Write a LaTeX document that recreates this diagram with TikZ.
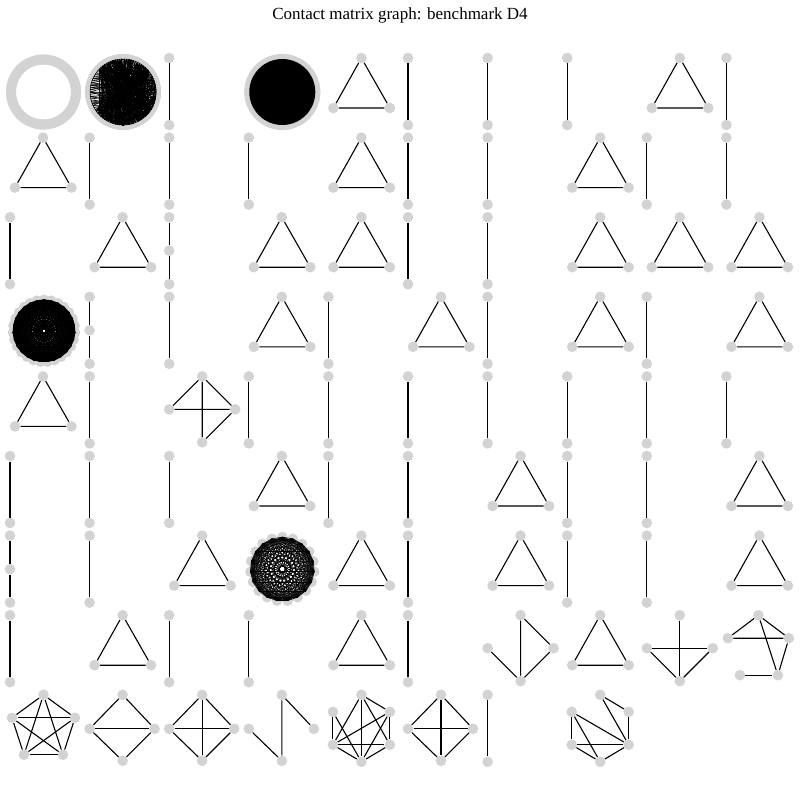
\documentclass[tikz,border=0pt]{standalone}
\usepackage{fontspec}
\setmainfont{Liberation Serif}
\definecolor{vgray}{RGB}{211,211,211}
\tikzset{
  vtx/.style={circle,fill=vgray,inner sep=0pt,minimum size=10.6pt},
  link/.style={black,line width=1.1pt},
  chord/.style={black,line width=0.6pt},
}
\begin{document}
\begin{tikzpicture}[x=1pt,y=-1pt]
\useasboundingbox (0,0) rectangle (800,800);

% Title
\node (title) at (400,15) {\fontsize{17}{20}\selectfont Contact matrix graph: benchmark D4};

% Components with two nodes
\foreach \c/\r in {2/0,5/0,6/0,7/0,9/0,
    1/1,2/1,3/1,5/1,6/1,8/1,9/1,
    0/2,5/2,6/2,
    2/3,4/3,6/3,8/3,
    1/4,3/4,4/4,5/4,6/4,7/4,8/4,9/4,
    0/5,1/5,2/5,4/5,5/5,7/5,8/5,
    1/6,5/6,7/6,8/6,
    0/7,2/7,3/7,5/7,
    6/8} {
  \begin{scope}[shift={(10+79.6*\c,58+79.6*\r)}]
    \node[vtx] (s-\c-\r-a) at (0,0) {};
    \node[vtx] (s-\c-\r-b) at (0,67) {};
    \draw[link] (s-\c-\r-a) -- (s-\c-\r-b);
  \end{scope}
}

% Paths with three nodes
\foreach \c/\r in {2/2,1/3,0/6} {
  \begin{scope}[shift={(10+79.6*\c,58+79.6*\r)}]
    \node[vtx] (p-\c-\r-a) at (0,0) {};
    \node[vtx] (p-\c-\r-b) at (0,33.5) {};
    \node[vtx] (p-\c-\r-c) at (0,67) {};
    \draw[link] (p-\c-\r-a) -- (p-\c-\r-b) -- (p-\c-\r-c);
  \end{scope}
}

% Triangles
\foreach \c/\r in {4/0,8/0, 0/1,4/1,7/1, 1/2,3/2,4/2,7/2,8/2,9/2,
    3/3,5/3,7/3,9/3, 0/4, 3/5,6/5,9/5, 2/6,4/6,6/6,9/6, 1/7,4/7,7/7} {
  \begin{scope}[shift={(10+79.6*\c,58+79.6*\r)}]
    \node[vtx] (t-\c-\r-a) at (33,0) {};
    \node[vtx] (t-\c-\r-b) at (5,50) {};
    \node[vtx] (t-\c-\r-c) at (61.5,50) {};
    \draw[link] (t-\c-\r-a) -- (t-\c-\r-b) -- (t-\c-\r-c) -- (t-\c-\r-a);
  \end{scope}
}

% Four nodes, row 5
\begin{scope}[shift={(10+79.6*2,58+79.6*4)}]
  \node[vtx] (qa-t) at (33,0) {};
  \node[vtx] (qa-l) at (0,33) {};
  \node[vtx] (qa-r) at (66,33) {};
  \node[vtx] (qa-b) at (33,66) {};
  \draw[link] (qa-t) -- (qa-l) -- (qa-r) -- (qa-t) -- (qa-b) -- (qa-r);
\end{scope}

% Four nodes, row 8
\begin{scope}[shift={(10+79.6*6,58+79.6*7)}]
  \node[vtx] (qb-t) at (33,0) {};
  \node[vtx] (qb-l) at (0,33) {};
  \node[vtx] (qb-r) at (66,33) {};
  \node[vtx] (qb-b) at (33,66) {};
  \draw[link] (qb-l) -- (qb-b) -- (qb-t) -- (qb-r) -- (qb-b);
\end{scope}
\begin{scope}[shift={(10+79.6*8,58+79.6*7)}]
  \node[vtx] (qc-t) at (33,0) {};
  \node[vtx] (qc-l) at (0,33) {};
  \node[vtx] (qc-r) at (66,33) {};
  \node[vtx] (qc-b) at (33,66) {};
  \draw[link] (qc-t) -- (qc-b);
  \draw[link] (qc-l) -- (qc-r);
  \draw[link] (qc-l) -- (qc-b) -- (qc-r);
\end{scope}

% Five nodes, row 8
\begin{scope}[shift={(10+79.6*9,58+79.6*7)}]
  \node[vtx] (fa-a) at (32,0) {};
  \node[vtx] (fa-b) at (1.5,23) {};
  \node[vtx] (fa-c) at (62.5,23) {};
  \node[vtx] (fa-d) at (51.5,60) {};
  \node[vtx] (fa-e) at (13.5,60) {};
  \draw[link] (fa-b) -- (fa-a) -- (fa-c) -- (fa-b);
  \draw[link] (fa-a) -- (fa-d) -- (fa-c);
  \draw[link] (fa-e) -- (fa-d);
\end{scope}

% Row 9: complete graph on five nodes
\begin{scope}[shift={(10,58+79.6*8)}]
  \node[vtx] (k5-1) at (33.5,0) {};
  \node[vtx] (k5-2) at (65,23) {};
  \node[vtx] (k5-3) at (53,60) {};
  \node[vtx] (k5-4) at (14,60) {};
  \node[vtx] (k5-5) at (2,23) {};
  \foreach \i in {1,...,5}
    \foreach \j in {1,...,5} {
      \ifnum\j>\i \draw[link] (k5-\i) -- (k5-\j); \fi
    }
\end{scope}

% Row 9: diamond
\begin{scope}[shift={(10+79.6,58+79.6*8)}]
  \node[vtx] (da-t) at (33,0) {};
  \node[vtx] (da-l) at (0,34) {};
  \node[vtx] (da-r) at (65,34) {};
  \node[vtx] (da-b) at (33,66) {};
  \draw[link] (da-t) -- (da-l) -- (da-b) -- (da-r) -- (da-t);
  \draw[link] (da-l) -- (da-r);
\end{scope}

% Row 9: complete graphs on four nodes
\foreach \c in {2,5} {
  \begin{scope}[shift={(10+79.6*\c,58+79.6*8)}]
    \node[vtx] (k4-\c-1) at (33,0) {};
    \node[vtx] (k4-\c-2) at (65,34) {};
    \node[vtx] (k4-\c-3) at (33,66) {};
    \node[vtx] (k4-\c-4) at (0,34) {};
    \foreach \i in {1,...,4}
      \foreach \j in {1,...,4} {
        \ifnum\j>\i \draw[link] (k4-\c-\i) -- (k4-\c-\j); \fi
      }
  \end{scope}
}

% Row 9: four nodes, three edges
\begin{scope}[shift={(10+79.6*3,58+79.6*8)}]
  \node[vtx] (db-t) at (33,0) {};
  \node[vtx] (db-l) at (0,34) {};
  \node[vtx] (db-r) at (65,34) {};
  \node[vtx] (db-b) at (33,66) {};
  \draw[link] (db-r) -- (db-t) -- (db-b) -- (db-l);
\end{scope}

% Row 9: six nodes
\begin{scope}[shift={(10+79.6*4,58+79.6*8)}]
  \node[vtx] (ha-a) at (33,0) {};
  \node[vtx] (ha-b) at (4.5,17) {};
  \node[vtx] (ha-c) at (61.5,17) {};
  \node[vtx] (ha-d) at (4.5,50) {};
  \node[vtx] (ha-e) at (61.5,50) {};
  \node[vtx] (ha-f) at (33,67) {};
  \foreach \u/\v in {b/d,b/f,a/d,a/f,a/c,a/e,c/d,c/e,c/f,d/e,d/f,e/f}
    \draw[link] (ha-\u) -- (ha-\v);
\end{scope}
\begin{scope}[shift={(10+79.6*7,58+79.6*8)}]
  \node[vtx] (hb-a) at (33,0) {};
  \node[vtx] (hb-b) at (4.5,17) {};
  \node[vtx] (hb-c) at (61.5,17) {};
  \node[vtx] (hb-d) at (4.5,50) {};
  \node[vtx] (hb-e) at (61.5,50) {};
  \node[vtx] (hb-f) at (33,67) {};
  \foreach \u/\v in {a/c,a/e,c/e,b/e,b/d,b/f,d/e,d/f,f/e}
    \draw[link] (hb-\u) -- (hb-\v);
\end{scope}

% Row 1: ring of nodes, no edges
\begin{scope}[shift={(10,58)}]
  \foreach \i in {1,...,90}
    \node[vtx] (ring-\i) at ({33.5+32.5*cos(4*\i)},{34-32.5*sin(4*\i)}) {};
\end{scope}

% Row 1: ring with a bundle of chords
\begin{scope}[shift={(10+79.6,58)}]
  \foreach \i in {1,...,90}
    \node[vtx] (fan-\i) at ({33.5+33*cos(4*\i)},{34-33*sin(4*\i)}) {};
  \foreach \i [evaluate=\i as \j using {int(mod(\i,90)+1)}] in {1,...,90}
    \draw[chord] (fan-\i.center) -- (fan-\j.center);
  \pgfmathsetseed{42}
  \foreach \k in {1,...,200} {
    \pgfmathtruncatemacro\ia{10+25*rnd}
    \pgfmathtruncatemacro\ib{54+27*rnd}
    \draw[chord] (fan-\ia.center) -- (fan-\ib.center);
  }
  \foreach \k in {1,...,120} {
    \pgfmathtruncatemacro\ia{mod(80+20*rnd,90)+1}
    \pgfmathtruncatemacro\ib{25+60*rnd}
    \draw[chord] (fan-\ia.center) -- (fan-\ib.center);
  }
\end{scope}

% Row 1: ring filled by its edges
\begin{scope}[shift={(10+79.6*3,58)}]
  \foreach \i in {1,...,90}
    \node[vtx] (blot-\i) at ({33.5+33*cos(4*\i)},{34-33*sin(4*\i)}) {};
  \fill[black] (33.5,34) circle (33pt);
\end{scope}

% Row 4: complete graph, many nodes
\begin{scope}[shift={(10,58+79.6*3)}]
  \foreach \i in {1,...,27}
    \node[vtx] (blob-\i) at ({34+31*cos(360*\i/27+90)},{34-31*sin(360*\i/27+90)}) {};
  \foreach \i in {1,...,27}
    \foreach \j in {1,...,27} {
      \ifnum\j>\i \draw[black,line width=0.75pt] (blob-\i.center) -- (blob-\j.center); \fi
    }
\end{scope}

% Row 7: complete graph, fewer nodes
\begin{scope}[shift={(10+79.6*3,58+79.6*6)}]
  \foreach \i in {1,...,19}
    \node[vtx] (mesh-\i) at ({33.5+32*cos(360*\i/19+90)},{33.5-32*sin(360*\i/19+90)}) {};
  \foreach \i in {1,...,19}
    \foreach \j in {1,...,19} {
      \ifnum\j>\i \draw[black,line width=0.55pt] (mesh-\i.center) -- (mesh-\j.center); \fi
    }
\end{scope}

\end{tikzpicture}
\end{document}
